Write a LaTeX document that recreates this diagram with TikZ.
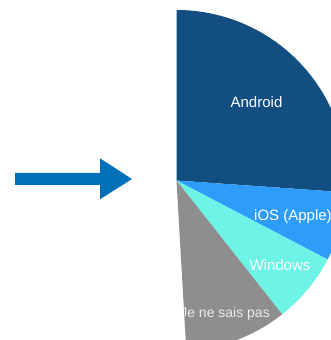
\documentclass[tikz,border=0pt]{standalone}
\usepackage{fontspec}
\setmainfont{Liberation Sans}
\definecolor{androidc}{HTML}{124E80}
\definecolor{iosc}{HTML}{2E9CFA}
\definecolor{winc}{HTML}{6DF4E6}
\definecolor{greyc}{HTML}{8E8E8E}
\definecolor{arrowc}{HTML}{0071B9}
\begin{document}
\begin{tikzpicture}[x=1pt,y=1pt,
  lbl/.style={font=\fontsize{15}{18}\selectfont, text=white, inner sep=0pt},
  slice/.style={draw=none}]
\useasboundingbox (0,0) rectangle (331,340);
\clip (0,0) rectangle (331,340);
\coordinate (c) at (176.5,159.5);
\def\R{170.5}
% arrow
\fill[arrowc] (15,167) -- (100,167) -- (100,181.7) -- (132,161) -- (100,140.7) -- (100,155) -- (15,155) -- cycle;
% pie slices
\fill[androidc] (c) -- ++(-4:\R) arc[start angle=-4, end angle=90, radius=\R] -- cycle;
\fill[iosc] (c) -- ++(-27.6:\R) arc[start angle=-27.6, end angle=-4, radius=\R] -- cycle;
\fill[winc] (c) -- ++(-51.7:\R) arc[start angle=-51.7, end angle=-27.6, radius=\R] -- cycle;
\fill[greyc] (c) -- ++(-86.7:\R) arc[start angle=-86.7, end angle=-51.7, radius=\R] -- cycle;
% labels
\node[lbl, anchor=base] (android) at (256.5,232) {Android};
\node[lbl, anchor=base west] (ios) at (254,119) {iOS (Apple)};
\node[lbl, anchor=base] (windows) at (280,69) {Windows};
\begin{scope}
\clip (c) -- ++(-86.7:\R) arc[start angle=-86.7, end angle=-51.7, radius=\R] -- cycle;
\node[lbl, anchor=base east, text=white!92!black, font=\fontsize{14}{17}\selectfont] (jnsp) at (270,22) {Je ne sais pas};
\end{scope}
\end{tikzpicture}
\end{document}
